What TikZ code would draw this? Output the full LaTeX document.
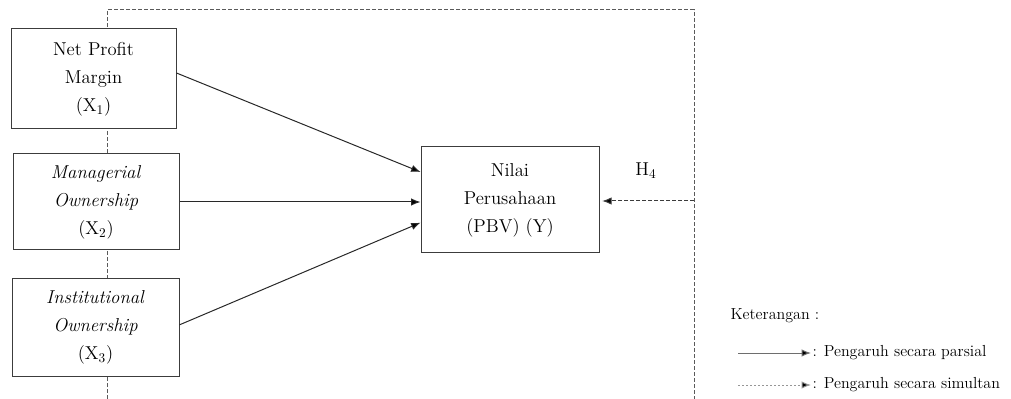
\documentclass[tikz,border=0pt]{standalone}
\usepackage{tikz}
\usetikzlibrary{arrows.meta}
\tikzset{every picture/.style={line width=0.75pt}}
\tikzset{
  varbox/.style={draw={rgb,255:red,60;green,60;blue,60}, fill=white, inner sep=0.75pt, align=center, font=\fontsize{14pt}{21pt}\selectfont},
  frameline/.style={draw={rgb,255:red,90;green,90;blue,90}, dash pattern=on 3pt off 1.5pt},
  partial/.style={draw={rgb,255:red,40;green,40;blue,40}, -{Latex[length=7pt,width=5.5pt,fill=black]}},
  simultan/.style={draw={rgb,255:red,60;green,60;blue,60}, dash pattern=on 3pt off 1.5pt, -{Latex[length=7pt,width=5.5pt,fill=black]}},
  legendtext/.style={anchor=west, inner sep=0.75pt, font=\fontsize{12pt}{14pt}\selectfont}
}

\begin{document}
\begin{tikzpicture}[x=0.75pt,y=0.75pt,yscale=-1,xscale=1]
\useasboundingbox (0,0) rectangle (1011,399);

% Frame corners
\coordinate (ftl) at (107,10);
\coordinate (ftr) at (694,10);
\coordinate (fbl) at (107,399);
\coordinate (fbr) at (694,399);
%Dashed frame
\draw [frameline] (fbl) -- (ftl) -- (ftr) -- (fbr) ;

%Shape: Rectangle X1
\node (npm) [varbox, minimum width=165*0.75pt, minimum height=100*0.75pt] at (93.5,79) {Net Profit\\Margin\\(X$_1$)};
%Shape: Rectangle X2
\node (mo) [varbox, minimum width=166*0.75pt, minimum height=96*0.75pt] at (96,202) {\textit{Managerial}\\\textit{Ownership}\\(X$_2$)};
%Shape: Rectangle X3
\node (io) [varbox, minimum width=167*0.75pt, minimum height=97*0.75pt] at (95.5,327.5) {\textit{Institutional}\\\textit{Ownership}\\(X$_3$)};
%Shape: Rectangle Y
\node (pbv) [varbox, minimum width=178*0.75pt, minimum height=106*0.75pt] at (510,200) {Nilai\\Perusahaan\\(PBV) (Y)};

%Straight Lines
\draw [partial] ([yshift=-4.5pt]npm.east) -- ([yshift=-21pt]pbv.west) ;
\draw [partial] (mo.east) -- (mo.east -| pbv.west) ;
\draw [partial] ([yshift=-2pt]io.east) -- ([yshift=17pt]pbv.west) ;
%Dashed arrow
\coordinate (fmid) at (694,201);
\draw [simultan, shorten >=2pt] (fmid) -- (fmid -| pbv.east) ;

% Text Node
\node (h4) [inner sep=0.75pt, font=\fontsize{14pt}{17pt}\selectfont] at (646,171) {H$_4$};

% Legend
\node (ket) [legendtext] at (729,316) {Keterangan :};
\node (lpar) [legendtext] at (811,353) {: Pengaruh secara parsial};
\node (lsim) [legendtext] at (811,385) {: Pengaruh secara simultan};
\coordinate (lpars) at (738,353);
\coordinate (lsims) at (738,385);
\draw [partial, draw={rgb,255:red,110;green,110;blue,110}] (lpars) -- (lpar.west) ;
\draw [draw={rgb,255:red,150;green,150;blue,150}, dash pattern=on 1.5pt off 1.5pt, -{Latex[length=7pt,width=5.5pt,fill=black]}] (lsims) -- (lsim.west) ;

\end{tikzpicture}
\end{document}
